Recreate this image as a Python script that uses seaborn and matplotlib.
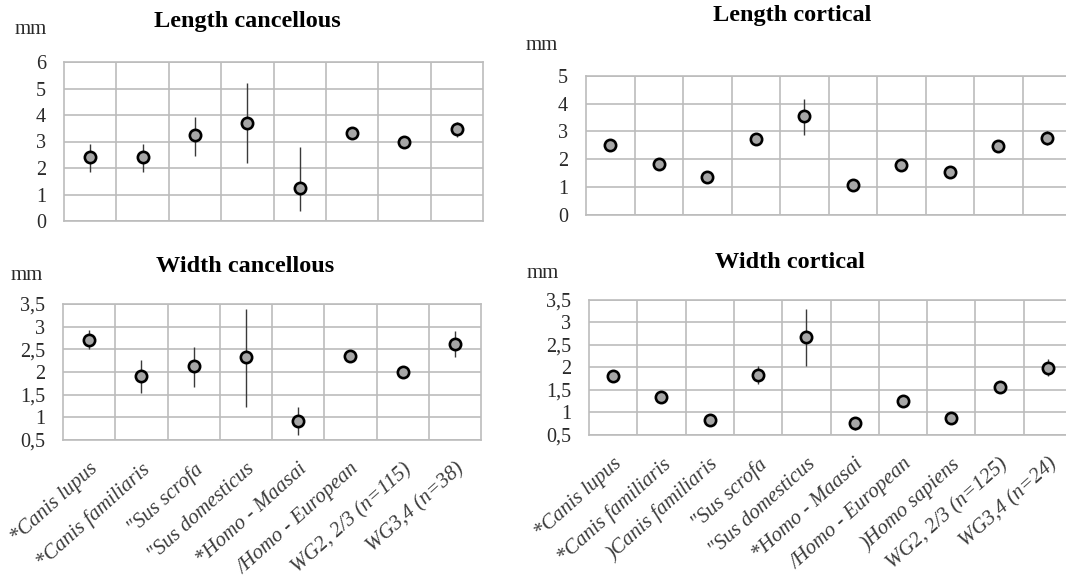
import matplotlib
matplotlib.use("Agg")
import matplotlib.pyplot as plt
import seaborn as sns
import pandas as pd
import numpy as np

# Taxa for the cancellous and cortical samples
cancellous_taxa = ["*Canis lupus", "*Canis familiaris", "\"Sus scrofa", "\"Sus domesticus",
                   "*Homo - Maasai", "/Homo - European", "WG2, 2/3 (n=115)", "WG3,4 (n=38)"]
cortical_taxa = ["*Canis lupus", "*Canis familiaris", ")Canis familiaris", "\"Sus scrofa",
                 "\"Sus domesticus", "*Homo - Maasai", "/Homo - European", ")Homo sapiens",
                 "WG2, 2/3 (n=125)", "WG3,4 (n=24)"]

# Length cancellous (mm): mean, lower and upper bound
len_canc_mean = [2.43, 2.43, 3.25, 3.71, 1.26, 3.31, 2.97, 3.48]
len_canc_low = [1.85, 1.85, 2.46, 2.18, 0.39, 3.25, 2.92, 3.16]
len_canc_high = [2.90, 2.90, 3.94, 5.22, 2.80, 3.37, 3.02, 3.75]

# Length cortical (mm)
len_cort_mean = [2.52, 1.81, 1.36, 2.73, 3.55, 1.06, 1.80, 1.52, 2.47, 2.76]
len_cort_low = [2.45, 1.62, 1.30, 2.50, 2.87, 1.00, 1.74, 1.46, 2.41, 2.50]
len_cort_high = [2.58, 1.95, 1.42, 2.90, 4.18, 1.12, 1.86, 1.58, 2.53, 3.02]

# Width cancellous (mm)
wid_canc_mean = [2.71, 1.92, 2.14, 2.32, 0.92, 2.36, 1.99, 2.62]
wid_canc_low = [2.51, 1.53, 1.68, 1.22, 0.60, 2.22, 1.86, 2.34]
wid_canc_high = [2.93, 2.27, 2.56, 3.39, 1.22, 2.45, 2.10, 2.90]

# Width cortical (mm)
wid_cort_mean = [1.80, 1.35, 0.83, 1.82, 2.67, 0.77, 1.26, 0.88, 1.57, 1.98]
wid_cort_low = [1.74, 1.22, 0.77, 1.62, 2.02, 0.62, 1.20, 0.82, 1.51, 1.80]
wid_cort_high = [1.86, 1.48, 0.89, 2.02, 3.29, 0.86, 1.32, 0.94, 1.63, 2.18]

sns.set_theme(style="white")
plt.rcParams["font.family"] = ["Liberation Serif", "DejaVu Serif"]

W, H = 1066, 583
fig = plt.figure(figsize=(W / 100, H / 100), dpi=100)


def px_axes(left, top, right, bottom):
    return fig.add_axes([left / W, 1 - bottom / H, (right - left) / W, (bottom - top) / H])


GRID = "#bcbcbc"
FILL = "#a6a6a6"
TEXT = "#2a2a2a"


def panel(ax, taxa, mean, low, high, ymin, ymax, yticks, ylabels, show_x):
    df = pd.DataFrame({"taxon": taxa, "mean": mean, "low": low, "high": high})
    df["pos"] = np.arange(len(df))
    ax.vlines(df["pos"], df["low"], df["high"], color="#3a3a3a", linewidth=1.0, zorder=3)
    sns.scatterplot(data=df, x="pos", y="mean", ax=ax, s=66, color=FILL,
                    edgecolor="black", linewidth=1.9, zorder=4, legend=False)
    n = len(df)
    ax.set_xlim(-0.5, n - 0.5)
    ax.set_ylim(ymin, ymax)
    ax.set_yticks(yticks)
    ax.set_yticklabels(ylabels, fontsize=14.5, color=TEXT)
    ax.set_xticks(df["pos"])
    ax.set_xticks(np.arange(n - 1) + 0.5, minor=True)
    if show_x:
        ax.set_xticklabels(taxa, rotation=42, ha="right", rotation_mode="anchor",
                           fontsize=15, fontstyle="italic", color="#3c3c3c")
    else:
        ax.set_xticklabels([])
    ax.tick_params(axis="both", which="both", length=0)
    ax.tick_params(axis="y", pad=13)
    ax.tick_params(axis="x", pad=14)
    ax.grid(True, axis="y", which="major", color=GRID, linewidth=1.2)
    ax.grid(True, axis="x", which="minor", color=GRID, linewidth=1.2)
    ax.grid(False, axis="x", which="major")
    for sp in ax.spines.values():
        sp.set_color(GRID)
        sp.set_linewidth(1.2)
    ax.set_xlabel("")
    ax.set_ylabel("")
    ax.set_facecolor("white")


ax_tl = px_axes(64, 62, 483, 221)
panel(ax_tl, cancellous_taxa, len_canc_mean, len_canc_low, len_canc_high,
      0, 6, [0, 1, 2, 3, 4, 5, 6], ["0", "1", "2", "3", "4", "5", "6"], False)

ax_tr = px_axes(586, 76, 1071, 214.5)
panel(ax_tr, cortical_taxa, len_cort_mean, len_cort_low, len_cort_high,
      0, 5, [0, 1, 2, 3, 4, 5], ["0", "1", "2", "3", "4", "5"], False)

half_ticks = [0.5, 1, 1.5, 2, 2.5, 3, 3.5]
half_labels = ["0,5", "1", "1,5", "2", "2,5", "3", "3,5"]

ax_bl = px_axes(63, 304, 481, 440)
panel(ax_bl, cancellous_taxa, wid_canc_mean, wid_canc_low, wid_canc_high,
      0.5, 3.5, half_ticks, half_labels, True)

ax_br = px_axes(589, 299.5, 1072, 435)
panel(ax_br, cortical_taxa, wid_cort_mean, wid_cort_low, wid_cort_high,
      0.5, 3.5, half_ticks, half_labels, True)

# Panel titles and unit labels
title_kw = dict(fontsize=17.5, fontweight="bold", ha="center", va="center", color="black")
fig.text(247 / W, 1 - 22 / H, "Length cancellous", **title_kw)
fig.text(792 / W, 1 - 15 / H, "Length cortical", **title_kw)
fig.text(245 / W, 1 - 266 / H, "Width cancellous", **title_kw)
fig.text(790 / W, 1 - 262 / H, "Width cortical", **title_kw)

mm_kw = dict(fontsize=15, ha="center", va="center", color=TEXT)
fig.text(31 / W, 1 - 29 / H, "mm", **mm_kw)
fig.text(542 / W, 1 - 45 / H, "mm", **mm_kw)
fig.text(27 / W, 1 - 275 / H, "mm", **mm_kw)
fig.text(543 / W, 1 - 273 / H, "mm", **mm_kw)

fig.savefig("out.png", dpi=100, facecolor="white")
